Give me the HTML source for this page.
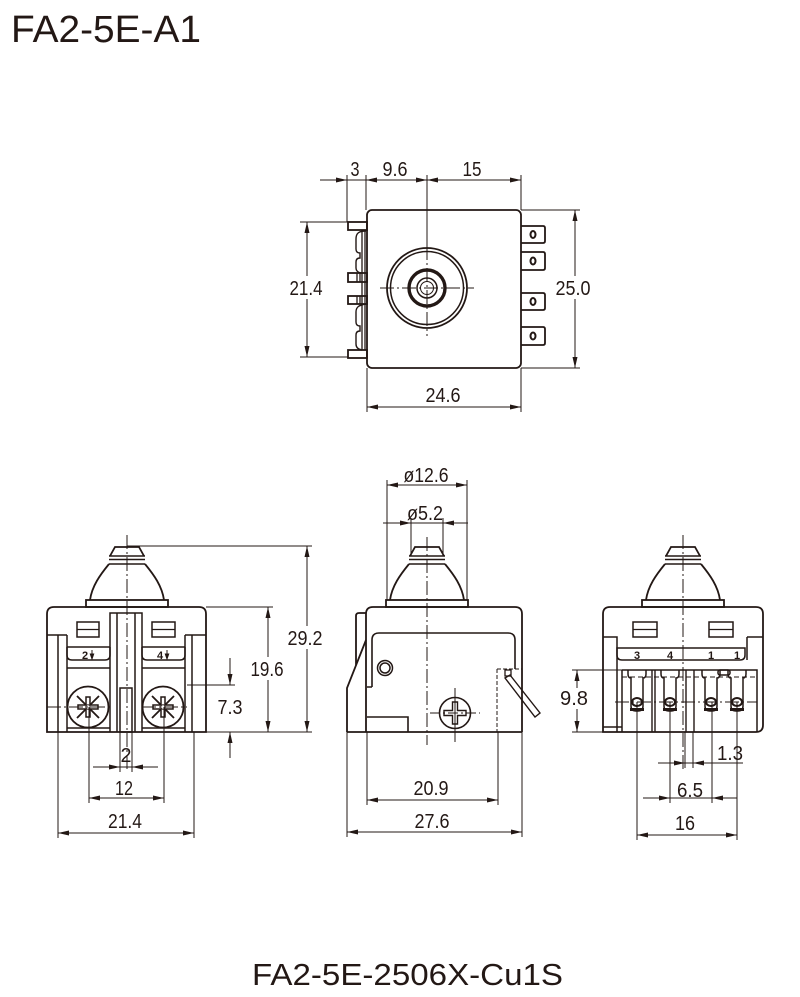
<!DOCTYPE html>
<html><head><meta charset="utf-8"><style>
html,body{margin:0;padding:0;background:#fff;}
svg{display:block;}
text{font-family:"Liberation Sans",Arial,sans-serif;fill:#231815;}
</style></head><body>
<svg width="800" height="997" viewBox="0 0 800 997" xmlns="http://www.w3.org/2000/svg">
<g fill="none" stroke="#231815" stroke-linecap="butt">

<!-- ================= TOP VIEW ================= -->
<g stroke-width="1.8">
  <rect x="367" y="210" width="154" height="158" rx="5"/>
  <rect x="348" y="222" width="19" height="8"/>
  <rect x="348" y="273" width="19" height="9"/>
  <rect x="348" y="296" width="19" height="8"/>
  <rect x="348" y="350" width="19" height="8"/>
  <path d="M357,273V282M360,273V282M357,296V304M360,296V304" stroke-width="1.3"/>
  <path d="M366,231C359,231 356,233 356,239V249Q356,253 360,253V258Q356,258 356,262V268Q356,272 361,273" stroke-width="1.4"/>
  <path d="M366,304C359,305 356,307 356,312V322Q356,326 360,326V331Q356,331 356,335V344Q356,349 362,350" stroke-width="1.4"/>
  <path d="M362,230V350M365,230V350" stroke-width="1.3"/>
  <path d="M521,226H543Q545,226 545,228V241Q545,243 543,243H521"/>
  <path d="M521,252H543Q545,252 545,254V268Q545,270 543,270H521"/>
  <path d="M521,293H543Q545,293 545,295V308Q545,310 543,310H521"/>
  <path d="M521,327H543Q545,327 545,329V343Q545,345 543,345H521"/>
  <circle cx="427" cy="288" r="40"/>
  <circle cx="427" cy="288" r="36.5" stroke-width="1.5"/>
  <circle cx="427" cy="288" r="18" stroke-width="3.4"/>
  <circle cx="427" cy="288" r="10" stroke-width="1.5"/>
  <circle cx="427" cy="288" r="6.5" stroke-width="1"/>
</g>
<g stroke-width="2">
  <ellipse cx="533" cy="234.5" rx="2.5" ry="3.5"/>
  <ellipse cx="533" cy="261" rx="2.5" ry="3.5"/>
  <ellipse cx="533" cy="301.5" rx="2.5" ry="3.5"/>
  <ellipse cx="533" cy="336" rx="2.5" ry="3.5"/>
</g>
<g stroke-width="1">
  <path d="M427,175V246"/>
  <path d="M427,246V336" stroke-dasharray="14,3,2,3"/>
  <path d="M380,288H474" stroke-dasharray="14,3,2,3"/>
  <path d="M320,180H521"/>
  <path d="M347,175V222M366,175V210M521,175V210"/>
  <path d="M300,222H348M300,357H348M307,222V357"/>
  <path d="M521,210H580M521,368H580M575,210V368"/>
  <path d="M367,368V412M521,368V412M367,407H521"/>
</g>

<!-- ================= LEFT VIEW ================= -->
<g stroke-width="1.8">
  <path d="M110,556L115,547H139L144,556"/>
  <path d="M109,556H145M109,559.5H145M109,564H145" stroke-width="1.4"/>
  <path d="M109,564C100,575 92,586 90,600M145,564C154,575 162,586 164,600"/>
  <rect x="86" y="600" width="82" height="7"/>
  <path d="M47,732V614Q47,607 54,607H199Q206,607 206,614V732Z"/>
  <path d="M47,635H67M185,635H206M58,635V732M67,635V732M185,635V732M192,635V732" stroke-width="1.5"/>
  <rect x="77" y="622" width="22" height="15" stroke-width="1.5"/>
  <path d="M77,629.5H99" stroke-width="1.3"/>
  <rect x="152" y="622" width="23" height="15" stroke-width="1.5"/>
  <path d="M152,629.5H175" stroke-width="1.3"/>
  <path d="M110,732V613H142V732M117,613V732M135,613V732" stroke-width="1.5"/>
  <rect x="120" y="688" width="12" height="44" stroke-width="1.5"/>
  <path d="M67,647H110M67,647V655Q67,660 72,660H105Q110,660 110,655V647" stroke-width="1.5"/>
  <path d="M142,647H185M142,647V655Q142,660 147,660H180Q185,660 185,655V647" stroke-width="1.5"/>
  <path d="M67,668H110M142,668H185" stroke-width="1.5"/>
  <path d="M67,728H110M142,728H185" stroke-width="1.5"/>
  <circle cx="88" cy="707" r="20.5"/>
  <circle cx="163" cy="707" r="20.5"/>
  <path d="M77,696L99,718M99,696L77,718M152,696L174,718M174,696L152,718" stroke-width="1.8"/>
  <path d="M86,697h4v8h8v4h-8v8h-4v-8h-8v-4h8z" fill="#fff" stroke-width="1.5"/>
  <path d="M161,697h4v8h8v4h-8v8h-4v-8h-8v-4h8z" fill="#fff" stroke-width="1.5"/>
  <circle cx="88" cy="707" r="2.2" fill="#fff" stroke-width="1"/>
  <circle cx="163" cy="707" r="2.2" fill="#fff" stroke-width="1"/>
</g>
<g stroke-width="1">
  <path d="M127,535V770" stroke-dasharray="14,3,2,3"/>
  <path d="M47,707H110M142,707H187" stroke-dasharray="14,3,2,3"/>
  <path d="M127,546H312M206,607H273M206,732H312M187,685H235"/>
  <path d="M307,546V732M268,607V732"/>
  <path d="M230,658V685M230,732V758"/>
  <path d="M120,732V772M132,732V772M93,767H158"/>
  <path d="M89,707V803M164,707V803M89,798H164"/>
  <path d="M58,732V838M194,732V838M58,833H194"/>
</g>

<!-- ================= MIDDLE VIEW ================= -->
<g stroke-width="1.8">
  <path d="M410,556L415,547H439L444,556"/>
  <path d="M409,556H445M409,559.5H445M409,564H445" stroke-width="1.4"/>
  <path d="M409,564C400,575 392,586 390,600M445,564C454,575 462,586 464,600"/>
  <rect x="386" y="600" width="82" height="7"/>
  <path d="M366,732V614Q366,607 373,607H515Q522,607 522,614V732"/>
  <path d="M347,732H522"/>
  <path d="M366,613H359Q356,613 356,616V665M366,640L347,688V732"/>
  <path d="M372,687V640Q372,633 379,633H508Q515,633 515,640V669" stroke-width="1.6"/>
  <path d="M372,687H367M367,717H408V732" stroke-width="1.6"/>
  <circle cx="385" cy="668" r="7.5" stroke-width="1.5"/>
  <circle cx="385" cy="668" r="5" stroke-width="1.5"/>
  <circle cx="455" cy="713" r="15.5" stroke-width="1.6"/>
  <path d="M452.5,702h5v8.5h8.5v5h-8.5v8.5h-5v-8.5h-8.5v-5h8.5z" fill="#fff" stroke-width="1.4"/>
  <rect x="505" y="670" width="6" height="6" stroke-width="1.3"/>
  <path d="M505,678L510,675L540,713L535,717Z" stroke-width="1.4"/>
</g>
<g stroke-width="1">
  <path d="M497,669V732M497,669H522" stroke-dasharray="4,2"/>
  <path d="M427,537V745" stroke-dasharray="14,3,2,3"/>
  <path d="M430,713H480" stroke-dasharray="10,3,2,3"/>
  <path d="M455,688V742"/>
  <path d="M387,480V600M467,480V600M387,485H467"/>
  <path d="M411,518V556M443,518V556M383,523H468"/>
  <path d="M367,732V805M498,732V805M367,800H498"/>
  <path d="M347,732V837M522,732V837M347,832H522"/>
</g>

<!-- ================= RIGHT VIEW ================= -->
<g stroke-width="1.8">
  <path d="M666,556L671,547H695L700,556"/>
  <path d="M665,556H701M665,559.5H701M665,564H701" stroke-width="1.4"/>
  <path d="M665,564C656,575 648,586 646,600M701,564C710,575 718,586 720,600"/>
  <rect x="642" y="600" width="82" height="7"/>
  <path d="M603,732V614Q603,607 610,607H756Q763,607 763,614V725Q763,732 756,732Z"/>
  <path d="M603,637H617V732M622,670V732M603,727H622" stroke-width="1.5"/>
  <path d="M747,637H763M747,637V660" stroke-width="1.5"/>
  <rect x="633" y="622" width="24" height="15" stroke-width="1.5"/>
  <path d="M633,629.5H657" stroke-width="1.3"/>
  <rect x="709" y="622" width="24" height="15" stroke-width="1.5"/>
  <path d="M709,629.5H733" stroke-width="1.3"/>
  <path d="M617,648H745V655Q745,660 740,660H622Q617,660 617,655Z" stroke-width="1.5"/>
  <path d="M622,670H757V732" stroke-width="1.5"/>
  <path d="M652,670V732M655,670V732M686,670V732M694,670V732" stroke-width="1.4"/>
  <g stroke-width="1.5">
  <path d="M628,670V674Q628,678 631,678V706Q631,711 636,711H638Q643,711 643,706V678Q646,678 646,674V670"/>
  <path d="M661,670V674Q661,678 664,678V706Q664,711 669,711H671Q676,711 676,706V678Q679,678 679,674V670"/>
  <path d="M702,670V674Q702,678 705,678V706Q705,711 710,711H712Q717,711 717,706V678Q720,678 720,674V670"/>
  <path d="M728,670V674Q728,678 731,678V706Q731,711 736,711H738Q743,711 743,706V678Q746,678 746,674V670"/>
  <rect x="718" y="670" width="12" height="5" rx="2"/>
  </g>
</g>
<g stroke-width="2">
  <ellipse cx="637" cy="702" rx="5" ry="4"/>
  <ellipse cx="670" cy="702" rx="5" ry="4"/>
  <ellipse cx="711" cy="702" rx="5" ry="4"/>
  <ellipse cx="737" cy="702" rx="5" ry="4"/>
  <path d="M630,709.5H644M663,709.5H677M704,709.5H718M730,709.5H744" stroke-width="3"/>
</g>
<g stroke-width="1">
  <path d="M622,677H757" stroke-dasharray="5,3"/>
  <path d="M615,702H757" stroke-dasharray="14,3,2,3"/>
  <path d="M683,535V770" stroke-dasharray="14,3,2,3"/>
  <path d="M572,670H622M572,732H603M577,670V732"/>
  <path d="M637,702V840M737,702V840M670,702V803M712,702V803"/>
  <path d="M685,732V768M693,732V768"/>
  <path d="M658,763H743"/>
  <path d="M643,798H737"/>
  <path d="M637,835H737"/>
</g>
</g>

<!-- ================= ARROWHEADS ================= -->
<g fill="#231815" stroke="none">
  <polygon points="347,180 336,177.5 336,182.5"/>
  <polygon points="366,180 377,177.5 377,182.5"/>
  <polygon points="427,180 416,177.5 416,182.5"/>
  <polygon points="427,180 438,177.5 438,182.5"/>
  <polygon points="521,180 510,177.5 510,182.5"/>
  <polygon points="307,222 304.5,233 309.5,233"/>
  <polygon points="307,357 304.5,346 309.5,346"/>
  <polygon points="575,210 572.5,221 577.5,221"/>
  <polygon points="575,368 572.5,357 577.5,357"/>
  <polygon points="367,407 378,404.5 378,409.5"/>
  <polygon points="521,407 510,404.5 510,409.5"/>
  <polygon points="307,546 304.5,557 309.5,557"/>
  <polygon points="307,732 304.5,721 309.5,721"/>
  <polygon points="268,607 265.5,618 270.5,618"/>
  <polygon points="268,732 265.5,721 270.5,721"/>
  <polygon points="230,685 227.5,674 232.5,674"/>
  <polygon points="230,732 227.5,743 232.5,743"/>
  <polygon points="120,767 109,764.5 109,769.5"/>
  <polygon points="132,767 143,764.5 143,769.5"/>
  <polygon points="89,798 100,795.5 100,800.5"/>
  <polygon points="164,798 153,795.5 153,800.5"/>
  <polygon points="58,833 69,830.5 69,835.5"/>
  <polygon points="194,833 183,830.5 183,835.5"/>
  <polygon points="387,485 398,482.5 398,487.5"/>
  <polygon points="467,485 456,482.5 456,487.5"/>
  <polygon points="411,523 400,520.5 400,525.5"/>
  <polygon points="443,523 454,520.5 454,525.5"/>
  <polygon points="367,800 378,797.5 378,802.5"/>
  <polygon points="498,800 487,797.5 487,802.5"/>
  <polygon points="347,832 358,829.5 358,834.5"/>
  <polygon points="522,832 511,829.5 511,834.5"/>
  <polygon points="577,670 574.5,681 579.5,681"/>
  <polygon points="577,732 574.5,721 579.5,721"/>
  <polygon points="685,763 674,760.5 674,765.5"/>
  <polygon points="693,763 704,760.5 704,765.5"/>
  <polygon points="670,798 659,795.5 659,800.5"/>
  <polygon points="712,798 723,795.5 723,800.5"/>
  <polygon points="637,835 648,832.5 648,837.5"/>
  <polygon points="737,835 726,832.5 726,837.5"/>
</g>

<g fill="#fff" stroke="none">
  <rect x="289" y="276" width="36" height="23"/>
  <rect x="554" y="276" width="38" height="23"/>
  <rect x="286" y="626" width="38" height="23"/>
  <rect x="249" y="657" width="36" height="23"/>
  <rect x="559" y="688" width="31" height="21"/>
</g>

<g font-size="20" text-anchor="middle">
  <text x="355" y="176" textLength="9" lengthAdjust="spacingAndGlyphs">3</text>
  <text x="395" y="176" textLength="25" lengthAdjust="spacingAndGlyphs">9.6</text>
  <text x="472" y="176" textLength="19" lengthAdjust="spacingAndGlyphs">15</text>
  <text x="306" y="295" textLength="33" lengthAdjust="spacingAndGlyphs">21.4</text>
  <text x="573" y="295" textLength="35" lengthAdjust="spacingAndGlyphs">25.0</text>
  <text x="443" y="402" textLength="35" lengthAdjust="spacingAndGlyphs">24.6</text>

  <text x="305" y="645" textLength="35" lengthAdjust="spacingAndGlyphs">29.2</text>
  <text x="267" y="676" textLength="33" lengthAdjust="spacingAndGlyphs">19.6</text>
  <text x="230" y="714" textLength="25" lengthAdjust="spacingAndGlyphs">7.3</text>
  <text x="126" y="762" textLength="11" lengthAdjust="spacingAndGlyphs">2</text>
  <text x="124" y="795" textLength="18" lengthAdjust="spacingAndGlyphs">12</text>
  <text x="125" y="828" textLength="34" lengthAdjust="spacingAndGlyphs">21.4</text>

  <text x="426" y="482" textLength="45" lengthAdjust="spacingAndGlyphs">ø12.6</text>
  <text x="425" y="520" textLength="36" lengthAdjust="spacingAndGlyphs">ø5.2</text>
  <text x="431" y="795" textLength="35" lengthAdjust="spacingAndGlyphs">20.9</text>
  <text x="432" y="828" textLength="35" lengthAdjust="spacingAndGlyphs">27.6</text>

  <text x="574" y="705" textLength="28" lengthAdjust="spacingAndGlyphs">9.8</text>
  <text x="730" y="760" textLength="26" lengthAdjust="spacingAndGlyphs">1.3</text>
  <text x="690" y="797" textLength="26" lengthAdjust="spacingAndGlyphs">6.5</text>
  <text x="685" y="830" textLength="20" lengthAdjust="spacingAndGlyphs">16</text>
</g>

<g font-size="11" font-weight="bold" text-anchor="middle">
  <text x="85" y="659">2</text>
  <text x="160" y="659">4</text>
  <text x="637" y="659">3</text>
  <text x="670" y="659">4</text>
  <text x="711" y="659">1</text>
  <text x="737" y="659">1</text>
</g>
<g stroke="#231815" stroke-width="1" fill="#231815">
  <path d="M92,650V658M167,650V658"/>
  <polygon points="92,659 90.3,654 93.7,654"/>
  <polygon points="167,659 165.3,654 168.7,654"/>
</g>

<text x="11" y="42" font-size="38" textLength="190" lengthAdjust="spacingAndGlyphs">FA2-5E-A1</text>
<text x="252" y="985" font-size="31" textLength="311" lengthAdjust="spacingAndGlyphs">FA2-5E-2506X-Cu1S</text>
</svg>
</body></html>
